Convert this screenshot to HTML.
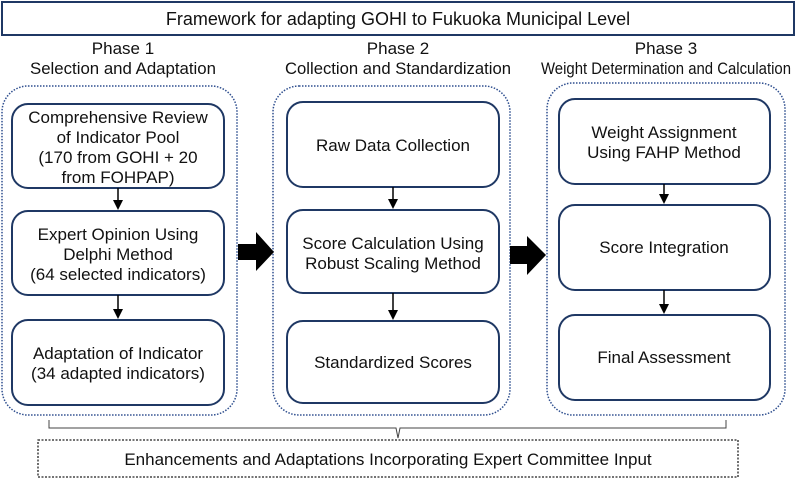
<!DOCTYPE html>
<html><head><meta charset="utf-8"><style>
body{margin:0;background:#fff}
svg{display:block}
text{font-family:"Liberation Sans",sans-serif;font-size:17px;fill:#111;text-anchor:middle}
.b{fill:#fff;stroke:#1f3864;stroke-width:2}
.o{fill:none;stroke:#2f4f8f;stroke-width:1.5;stroke-dasharray:1.5 1.5}
.a{stroke:#000;stroke-width:1.5}
</style></head><body>
<svg width="797" height="479" viewBox="0 0 797 479">
<rect x="2" y="2" width="792" height="33" fill="#fff" stroke="#1f3864" stroke-width="2"/>
<text x="398" y="25" style="font-size:18px">Framework for adapting GOHI to Fukuoka Municipal Level</text>
<text x="123" y="54">Phase 1</text><text x="123" y="74" textLength="186" lengthAdjust="spacingAndGlyphs">Selection and Adaptation</text>
<text x="398" y="54">Phase 2</text><text x="398" y="74" textLength="226" lengthAdjust="spacingAndGlyphs">Collection and Standardization</text>
<text x="666" y="54">Phase 3</text><text x="666" y="74" textLength="250" lengthAdjust="spacingAndGlyphs">Weight Determination and Calculation</text>
<rect class="o" x="2" y="86" width="235" height="329" rx="26"/>
<rect class="o" x="273" y="86" width="237" height="329" rx="26"/>
<rect class="o" x="547" y="83" width="238" height="332" rx="26"/>
<rect class="b" x="12" y="104" width="212" height="84" rx="16"/>
<text x="118" y="123">Comprehensive Review</text><text x="118" y="143">of Indicator Pool</text><text x="118" y="163">(170 from GOHI + 20</text><text x="118" y="183">from FOHPAP)</text>
<rect class="b" x="12" y="211" width="212" height="84" rx="16"/>
<text x="118" y="240">Expert Opinion Using</text><text x="118" y="260">Delphi Method</text><text x="118" y="280">(64 selected indicators)</text>
<rect class="b" x="12" y="320" width="212" height="85" rx="16"/>
<text x="118" y="359">Adaptation of Indicator</text><text x="118" y="379">(34 adapted indicators)</text>
<line class="a" x1="118" y1="188" x2="118" y2="201"/><path d="M113,200 H123 L118,210Z"/>
<line class="a" x1="118" y1="295" x2="118" y2="310"/><path d="M113,309 H123 L118,319Z"/>
<rect class="b" x="287" y="102" width="212" height="85" rx="16"/>
<text x="393" y="151">Raw Data Collection</text>
<rect class="b" x="287" y="210" width="212" height="83" rx="16"/>
<text x="393" y="249">Score Calculation Using</text><text x="393" y="269">Robust Scaling Method</text>
<rect class="b" x="287" y="321" width="212" height="82" rx="16"/>
<text x="393" y="368">Standardized Scores</text>
<line class="a" x1="393" y1="187" x2="393" y2="200"/><path d="M388,199 H398 L393,209Z"/>
<line class="a" x1="393" y1="293" x2="393" y2="311"/><path d="M388,310 H398 L393,320Z"/>
<rect class="b" x="559" y="99" width="211" height="85" rx="16"/>
<text x="664" y="138">Weight Assignment</text><text x="664" y="158">Using FAHP Method</text>
<rect class="b" x="559" y="205" width="211" height="85" rx="16"/>
<text x="664" y="253">Score Integration</text>
<rect class="b" x="559" y="315" width="211" height="85" rx="16"/>
<text x="664" y="363">Final Assessment</text>
<line class="a" x1="664" y1="184" x2="664" y2="195"/><path d="M659,194 H669 L664,204Z"/>
<line class="a" x1="664" y1="290" x2="664" y2="305"/><path d="M659,304 H669 L664,314Z"/>
<path d="M238,244 H256 V232 L274,252 L256,271 V260 H238Z" fill="#000"/>
<path d="M510,246 H527 V236 L546,255 L527,275 V264 H510Z" fill="#000"/>
<path d="M49,420 V428 H396 L398,438 L400,428 H726 V420" fill="none" stroke="#444" stroke-width="1"/>
<rect x="38" y="440" width="700" height="37" fill="#fff" stroke="#222" stroke-width="1.3" stroke-dasharray="2 1.5"/>
<text x="388" y="465">Enhancements and Adaptations Incorporating Expert Committee Input</text>
</svg>
</body></html>
